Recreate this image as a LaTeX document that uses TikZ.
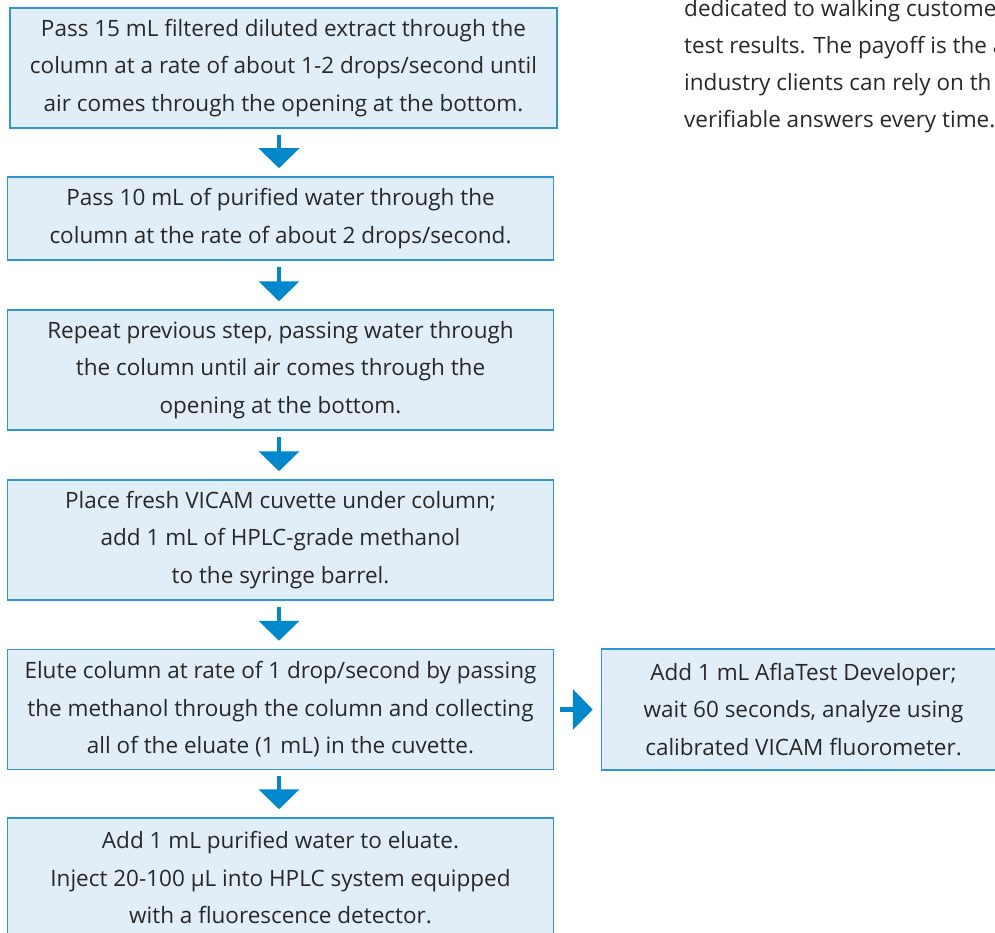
\documentclass[tikz,border=0pt]{standalone}
\usepackage{fontspec}
\setmainfont{Open Sans}
\usetikzlibrary{positioning}
\usetikzlibrary{arrows.meta}
\definecolor{boxfill}{RGB}{225,238,248}
\definecolor{boxline}{RGB}{45,150,212}
\definecolor{arrowblue}{RGB}{0,136,204}
\definecolor{inktext}{RGB}{40,40,40}
\tikzset{stepbox/.style={draw=boxline,fill=boxfill,line width=1.5pt,align=center,
  text=inktext,inner sep=0pt,font=\fontsize{22.5}{37.5}\selectfont}}
\tikzset{flow/.style={draw=arrowblue,line width=4.5pt,
  -{Triangle[width=40pt,length=20pt]},shorten <=6pt,shorten >=8pt}}

\begin{document}
\begin{tikzpicture}[x=1pt,y=-1pt]
\useasboundingbox (0,0) rectangle (995,933);
\clip (0,0) rectangle (995,933);

\node[stepbox, minimum width=547, minimum height=120] (p1) at (283.5,68)
 {Pass 15 mL filtered diluted extract through the\\
  column at a rate of about 1-2 drops/second until\\
  air comes through the opening at the bottom.};
\node[stepbox, minimum width=546, minimum height=83] (p2) at (280.5,218.5)
 {Pass 10 mL of purified water through the\\
  column at the rate of about 2 drops/second.};
\node[stepbox, minimum width=546, minimum height=120] (p3) at (280.5,370)
 {Repeat previous step, passing water through\\
  the column until air comes through the\\
  opening at the bottom.};
\node[stepbox, minimum width=546, minimum height=120] (p4) at (280.5,540)
 {Place fresh VICAM cuvette under column;\\
  add 1 mL of HPLC-grade methanol\\
  to the syringe barrel.};
\node[stepbox, minimum width=546, minimum height=120] (p5) at (280.5,709.5)
 {Elute column at rate of 1 drop/second by passing\\
  the methanol through the column and collecting\\
  all of the eluate (1 mL) in the cuvette.};
\node[stepbox, minimum width=546, minimum height=120] (p6) at (280.5,878)
 {Add 1 mL purified water to eluate.\\
  Inject 20-100 µL into HPLC system equipped\\
  with a fluorescence detector.};

\node[stepbox, minimum width=404, minimum height=121, right=46.5 of p5] (dev)
 {Add 1 mL AflaTest Developer;\\
  wait 60 seconds, analyze using\\
  calibrated VICAM fluorometer.};

% text beside the chart
\node[anchor=north west, align=left, inner sep=0pt, text=inktext,
  font=\fontsize{22.5}{37}\selectfont] (blurb) at (684,-1)
 {dedicated to walking custome\\
  test results. The payoff is the a\\
  industry clients can rely on th\\
  verifiable answers every time.};

\draw[flow] (p1.south -| 279,0) -- (p2.north -| 279,0);
\draw[flow] (p2.south -| 279,0) -- (p3.north -| 279,0);
\draw[flow] (p3.south -| 279,0) -- (p4.north -| 279,0);
\draw[flow] (p4.south -| 279,0) -- (p5.north -| 279,0);
\draw[flow] (p5.south -| 279,0) -- (p6.north -| 279,0);
\draw[flow] (p5) -- (dev);
\end{tikzpicture}
\end{document}
